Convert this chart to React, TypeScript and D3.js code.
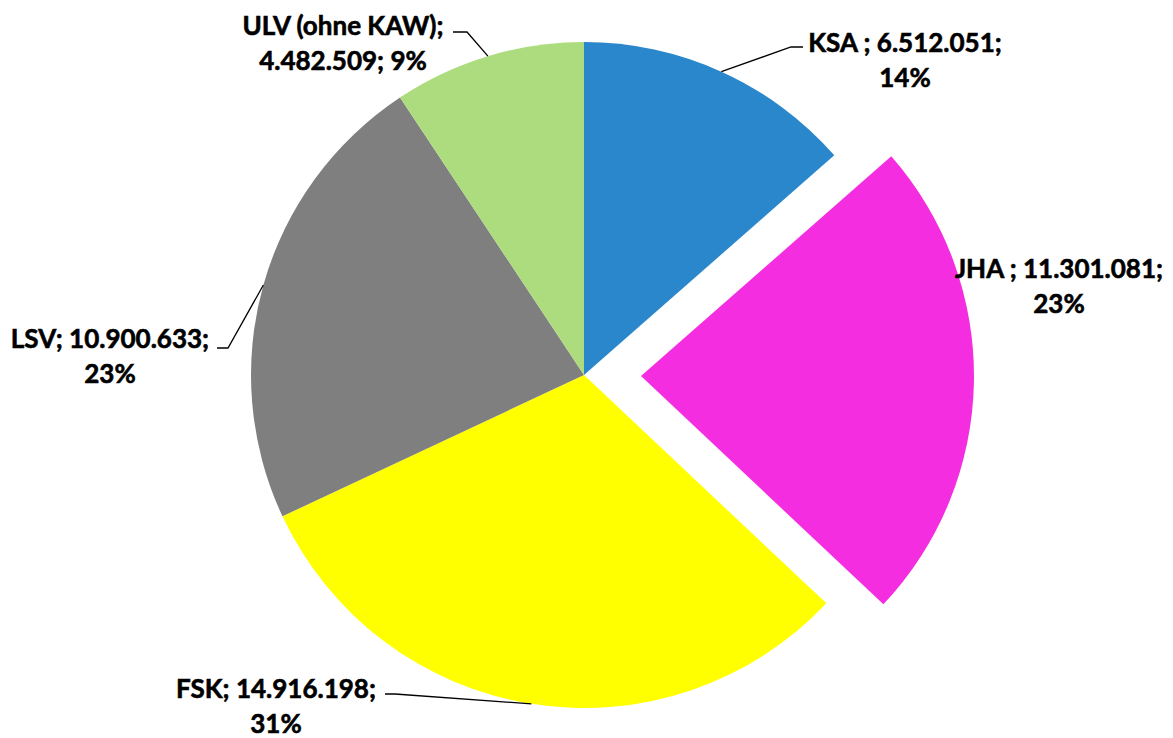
import React from "react";
import * as d3 from "d3";

const categories = ["KSA ", "JHA ", "FSK", "LSV", "ULV (ohne KAW)"];
const values = [6512051, 11301081, 14916198, 10900633, 4482509];
const colors = ["#2B87CB", "#F52DE1", "#FFFF00", "#7F7F7F", "#ADDC7E"];
const exploded = [false, true, false, false, false];

// label layout: center x, first-line center y, wrap after name?, leader elbow
const labelLayout = [
  { x: 905, y: 42, wrapAfterName: false, leader: [[791, 47], [803, 47]] },
  { x: 1059, y: 268, wrapAfterName: false, leader: null },
  { x: 276, y: 688, wrapAfterName: false, leader: [[395, 694], [385, 694]] },
  { x: 110, y: 338, wrapAfterName: false, leader: [[228, 348], [217, 348]] },
  { x: 343, y: 25, wrapAfterName: true, leader: [[467, 32], [453, 32]] },
];

const W = 1173;
const H = 738;
const cx = 584;
const cy = 375;
const R = 333;
const explodeOffset = 57;

const de = d3.formatLocale({ decimal: ",", thousands: ".", grouping: [3], currency: ["", "€"] });
const fmtNum = de.format(",d");

export default function App() {
  const total = d3.sum(values);
  const pie = d3.pie<number>().sort(null).value((d) => d)(values);
  const arc = d3.arc<d3.PieArcDatum<number>>().innerRadius(0).outerRadius(R);

  return (
    <svg width={W} height={H} style={{ position: "absolute", left: 0, top: 0, background: "#fff" }}>
      <g transform={`translate(${cx},${cy})`}>
        {pie.map((p, i) => {
          const mid = (p.startAngle + p.endAngle) / 2;
          const dx = exploded[i] ? Math.sin(mid) * explodeOffset : 0;
          const dy = exploded[i] ? -Math.cos(mid) * explodeOffset : 0;
          return (
            <path key={i} d={arc(p) || ""} fill={colors[i]} transform={`translate(${dx},${dy})`} />
          );
        })}
      </g>
      {pie.map((p, i) => {
        const L = labelLayout[i];
        if (!L.leader) return null;
        const mid = (p.startAngle + p.endAngle) / 2;
        const ax = cx + Math.sin(mid) * R;
        const ay = cy - Math.cos(mid) * R;
        const pts = [[ax, ay], ...L.leader];
        return (
          <polyline
            key={"l" + i}
            points={pts.map((q) => q.join(",")).join(" ")}
            fill="none"
            stroke="#000"
            strokeWidth={1.3}
          />
        );
      })}
      {values.map((v, i) => {
        const L = labelLayout[i];
        const pct = Math.round((v / total) * 100) + "%";
        const lines = L.wrapAfterName
          ? [`${categories[i]};`, `${fmtNum(v)}; ${pct}`]
          : [`${categories[i]}; ${fmtNum(v)};`, pct];
        return (
          <text
            key={"t" + i}
            fontFamily="Lato, 'Open Sans', sans-serif"
            fontWeight="bold"
            fontSize={26}
            fill="#000"
            stroke="#000"
            strokeWidth={0.6}
            textAnchor="middle"
          >
            {lines.map((s, j) => (
              <tspan key={j} x={L.x} y={L.y + j * 35} dominantBaseline="central">
                {s}
              </tspan>
            ))}
          </text>
        );
      })}
    </svg>
  );
}
